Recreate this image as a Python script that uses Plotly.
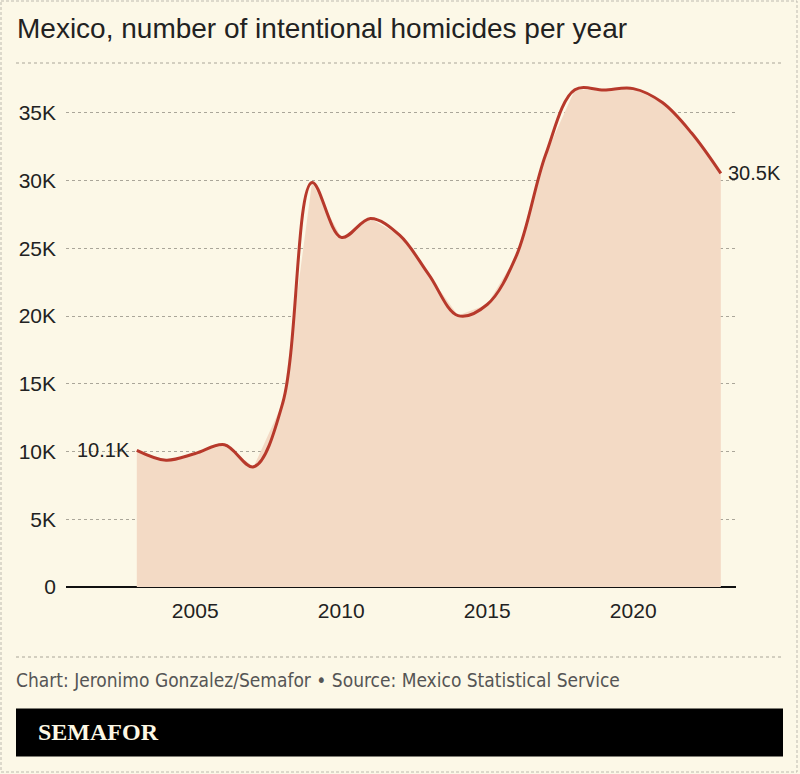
import plotly.graph_objects as go

years = list(range(2003, 2024))
homicides = [10087, 9360, 9850, 10500, 8870, 13600, 29850, 25800, 27200, 25960,
             23050, 20030, 20850, 24450, 31900, 36700, 36680, 36780, 35750, 33500, 30520]
y_ticks = [0, 5000, 10000, 15000, 20000, 25000, 30000, 35000]
y_tick_labels = ["0", "5K", "10K", "15K", "20K", "25K", "30K", "35K"]
x_ticks = [2005, 2010, 2015, 2020]

title_text = "Mexico, number of intentional homicides per year"
source_text = "Chart: Jeronimo Gonzalez/Semafor \u2022 Source: Mexico Statistical Service"
brand_text = "SEMAFOR"

BG = "#fcf8e7"
FILL = "#f3dac5"
LINE = "#b7392b"
GRID = "#aaa699"
TEXT = "#222222"

W, H = 800, 774
L, R, T, B = 66, 64, 45, 187
PW, PH = W - L - R, H - T - B


def px(xp):
    return (xp - L) / PW


def py(yp):
    return (H - B - yp) / PH


fig = go.Figure()
fig.add_trace(go.Scatter(x=years, y=homicides, mode="lines", fill="tozeroy",
                         fillcolor=FILL, line=dict(width=0, shape="linear"),
                         hoverinfo="skip", showlegend=False))
fig.add_trace(go.Scatter(x=years, y=homicides, mode="lines",
                         line=dict(color=LINE, width=3, shape="spline", smoothing=1),
                         hoverinfo="skip", showlegend=False))

font_main = "Liberation Sans, Arial, sans-serif"

annotations = [
    dict(x=years[0], y=homicides[0], xref="x", yref="y", text=f"{homicides[0]/1000:.1f}K",
         showarrow=False, xanchor="right", yanchor="middle", xshift=-5,
         font=dict(family=font_main, size=20, color=TEXT)),
    dict(x=years[-1], y=homicides[-1], xref="x", yref="y", text=f"{homicides[-1]/1000:.1f}K",
         showarrow=False, xanchor="left", yanchor="middle", xshift=5,
         font=dict(family=font_main, size=20, color=TEXT)),
    dict(x=px(15), y=py(28), xref="paper", yref="paper", text=title_text,
         showarrow=False, xanchor="left", yanchor="middle",
         font=dict(family=font_main, size=28, color=TEXT)),
    dict(x=px(14), y=py(680), xref="paper", yref="paper", text=source_text,
         showarrow=False, xanchor="left", yanchor="middle",
         font=dict(family="Liberation Sans Narrow, DejaVu Sans Condensed, sans-serif", size=19, color="#555555")),
    dict(x=px(36), y=py(732), xref="paper", yref="paper", text="<b>" + brand_text + "</b>",
         showarrow=False, xanchor="left", yanchor="middle",
         font=dict(family="Liberation Serif, serif", size=24, color="#fdf8e4")),
]

shapes = [
    dict(type="line", xref="paper", yref="paper", x0=px(16), x1=px(784), y0=py(63), y1=py(63),
         line=dict(color=GRID, width=1, dash="3px,3px")),
    dict(type="line", xref="paper", yref="paper", x0=px(16), x1=px(784), y0=py(657), y1=py(657),
         line=dict(color=GRID, width=1, dash="3px,3px")),
    dict(type="rect", xref="paper", yref="paper", x0=px(16), x1=px(783), y0=py(708.5), y1=py(756.5),
         fillcolor="#000000", line=dict(width=0)),
    dict(type="rect", xref="paper", yref="paper", x0=px(1), x1=px(797), y0=py(1), y1=py(772),
         line=dict(color="#bdbab0", width=1, dash="3px,2px")),
]

fig.update_layout(
    width=W, height=H,
    margin=dict(l=L, r=R, t=T, b=B, pad=0),
    paper_bgcolor=BG, plot_bgcolor=BG,
    annotations=annotations, shapes=shapes,
    xaxis=dict(range=[2000.575, 2023.52], tickvals=x_ticks, showgrid=False, zeroline=False,
               showline=False, ticks="", tickfont=dict(family=font_main, size=21, color=TEXT),
               ticklabelstandoff=9),
    yaxis=dict(range=[0, 40000], tickvals=y_ticks, ticktext=y_tick_labels,
               showgrid=True, gridcolor=GRID, gridwidth=1, griddash="3px,3px",
               zeroline=True, zerolinecolor="#111111", zerolinewidth=2,
               showline=False, ticks="", ticklabelstandoff=9,
               tickfont=dict(family=font_main, size=21, color=TEXT)),
)

fig.write_html("out.html", config={"displayModeBar": False},
               post_script="document.body.style.margin='0';document.body.style.background='" + BG + "';")
